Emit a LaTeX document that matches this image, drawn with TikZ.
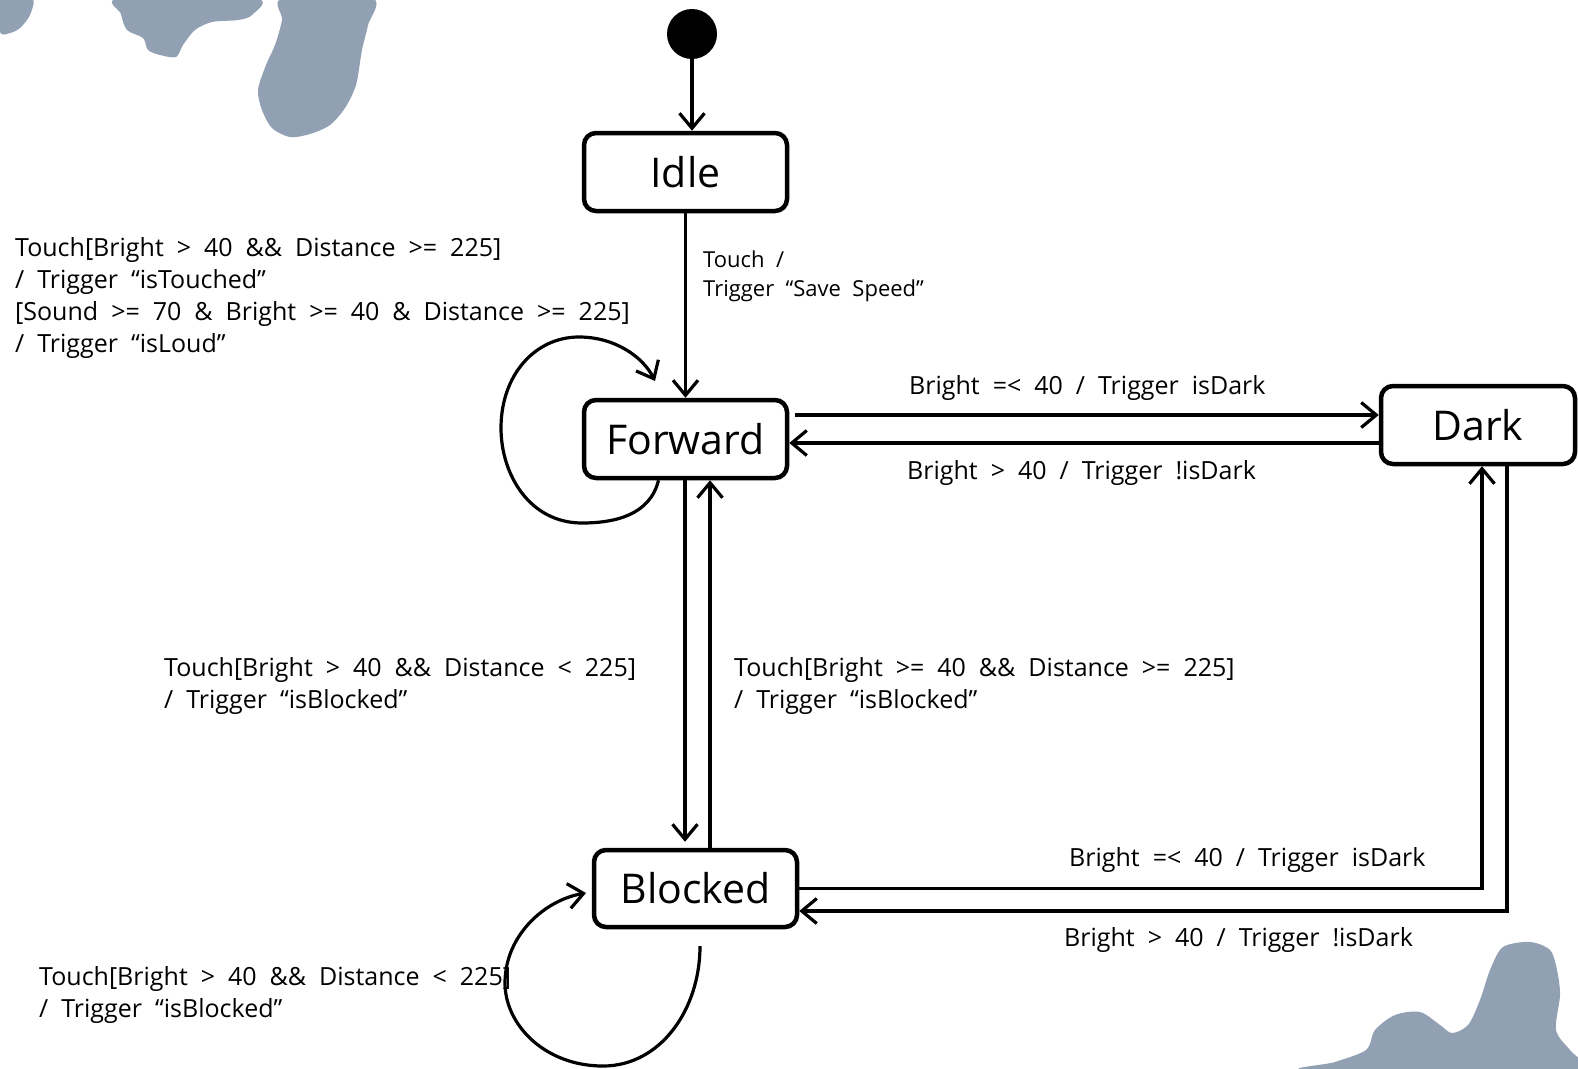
\documentclass[tikz,border=0pt]{standalone}
\usepackage{fontspec}
\setmainfont{Open Sans}[WordSpace=2.0]
\newfontfamily\boxfont{Open Sans}
\usetikzlibrary{arrows.meta}
\definecolor{blobc}{RGB}{146,160,180}
\tikzset{
  statebox/.style={draw, line width=4.5pt, rounded corners=12pt, minimum width=203pt, minimum height=78pt, inner sep=0pt, font=\boxfont\fontsize{41}{46}\selectfont},
  arr/.style={line width=3.2pt, -{Straight Barb[length=15pt,width=25pt]}},
  lbl/.style={font=\fontsize{25}{32}\selectfont, align=left, inner sep=0pt},
  slbl/.style={font=\fontsize{22}{29}\selectfont, align=left, inner sep=0pt},
}
\begin{document}
\begin{tikzpicture}[x=1pt,y=-1pt]
\useasboundingbox (0,0) rectangle (1578,1068);
% decorative blobs
\fill[blobc] plot[smooth cycle] coordinates {(0,-2) (32,-2) (30,15) (20,28) (10,33) (0,32)};
\fill[blobc] plot[smooth cycle] coordinates {(120,-2) (255,-2) (252,15) (238,20) (212,22) (195,30) (183,45) (176,57) (160,55) (148,50) (143,38) (127,30) (121,14)};
\fill[blobc] plot[smooth cycle] coordinates {(283,-2) (372,-2) (368,25) (362,50) (356,85) (345,108) (330,125) (310,134) (290,137) (272,128) (262,110) (258,90) (266,65) (275,45) (282,20)};
\fill[blobc] plot[smooth cycle] coordinates {(1503,947) (1530,942) (1550,950) (1557,970) (1560,995) (1556,1030) (1570,1050) (1580,1060) (1580,1070) (1310,1070) (1335,1062) (1366,1050) (1375,1030) (1395,1015) (1420,1012) (1440,1025) (1452,1033) (1468,1025) (1480,1000) (1490,970)};

% states
\node[circle, fill=black, minimum size=50pt, inner sep=0pt] (init) at (692,34) {};
\node[statebox] (Idle) at (685.5,172) {Idle};
\node[statebox] (Forward) at (685.5,439) {Forward};
\node[statebox, minimum width=194pt] (Dark) at (1478,425) {Dark};
\node[statebox, minimum height=77pt] (Blocked) at (695.5,888.5) {Blocked};

\coordinate (h415) at (0,415);
\coordinate (h443) at (0,443);
\coordinate (v685) at (685,0);
\coordinate (v710) at (710,0);

% connectors
\draw[arr] (init) -- (init |- Idle.north);
\draw[arr] (Idle) -- (Forward.north);
\draw[arr, shorten <=6pt] (Forward.east |- h415) -- (Dark.west |- h415);
\draw[arr] (Dark.west |- h443) -- (Forward.east |- h443);
\draw[arr, shorten >=6pt] (Forward.south -| v685) -- (Blocked.north -| v685);
\draw[arr] (Blocked.north -| v710) -- (Forward.south -| v710);
\draw[arr] (Blocked.east) -| ([xshift=4pt]Dark.south);
\draw[arr] ([xshift=29pt]Dark.south) |- ([yshift=-22.5pt]Blocked.east);

% self loops
\coordinate (fl0) at ([xshift=-27pt]Forward.south);
\coordinate (fl1) at (582,523);
\coordinate (fl2) at (501,428);
\coordinate (fl3) at (579,337);
\coordinate (fl4) at (655,381);
\draw[arr] (fl0) .. controls (650,515) and (615,523) .. (fl1)
  .. controls (530,523) and (501,475) .. (fl2)
  .. controls (501,375) and (535,337) .. (fl3)
  .. controls (615,337) and (643,357) .. (fl4);

\coordinate (bl0) at (700,946);
\coordinate (bl1) at (603,1066);
\coordinate (bl2) at (505,983);
\coordinate (bl3) at (586,893);
\draw[arr] (bl0) .. controls (700,1010) and (660,1066) .. (bl1)
  .. controls (545,1066) and (505,1025) .. (bl2)
  .. controls (505,935) and (545,900) .. (bl3);

% labels
\node[lbl, anchor=north west] (lfwd) at (15,237) {Touch[Bright > 40 \&\& Distance >= 225]\\/ Trigger “isTouched”\\{[}Sound >= 70 \& Bright >= 40 \& Distance >= 225]\\/ Trigger “isLoud”};
\node[slbl, anchor=north west] (lidle) at (703,251) {Touch /\\Trigger “Save Speed”};
\node[lbl, anchor=west] (lfd) at (909,388) {Bright =< 40 / Trigger isDark};
\node[lbl, anchor=west] (ldf) at (907,473) {Bright > 40 / Trigger !isDark};
\node[lbl, anchor=north west] (lfb) at (164,657) {Touch[Bright > 40 \&\& Distance < 225]\\/ Trigger “isBlocked”};
\node[lbl, anchor=north west] (lbf) at (734,657) {Touch[Bright >= 40 \&\& Distance >= 225]\\/ Trigger “isBlocked”};
\node[lbl, anchor=west] (lbd) at (1069,860) {Bright =< 40 / Trigger isDark};
\node[lbl, anchor=west] (ldb) at (1064,940) {Bright > 40 / Trigger !isDark};
\node[lbl, anchor=north west] (lbb) at (39,966) {Touch[Bright > 40 \&\& Distance < 225]\\/ Trigger “isBlocked”};
\end{tikzpicture}
\end{document}
